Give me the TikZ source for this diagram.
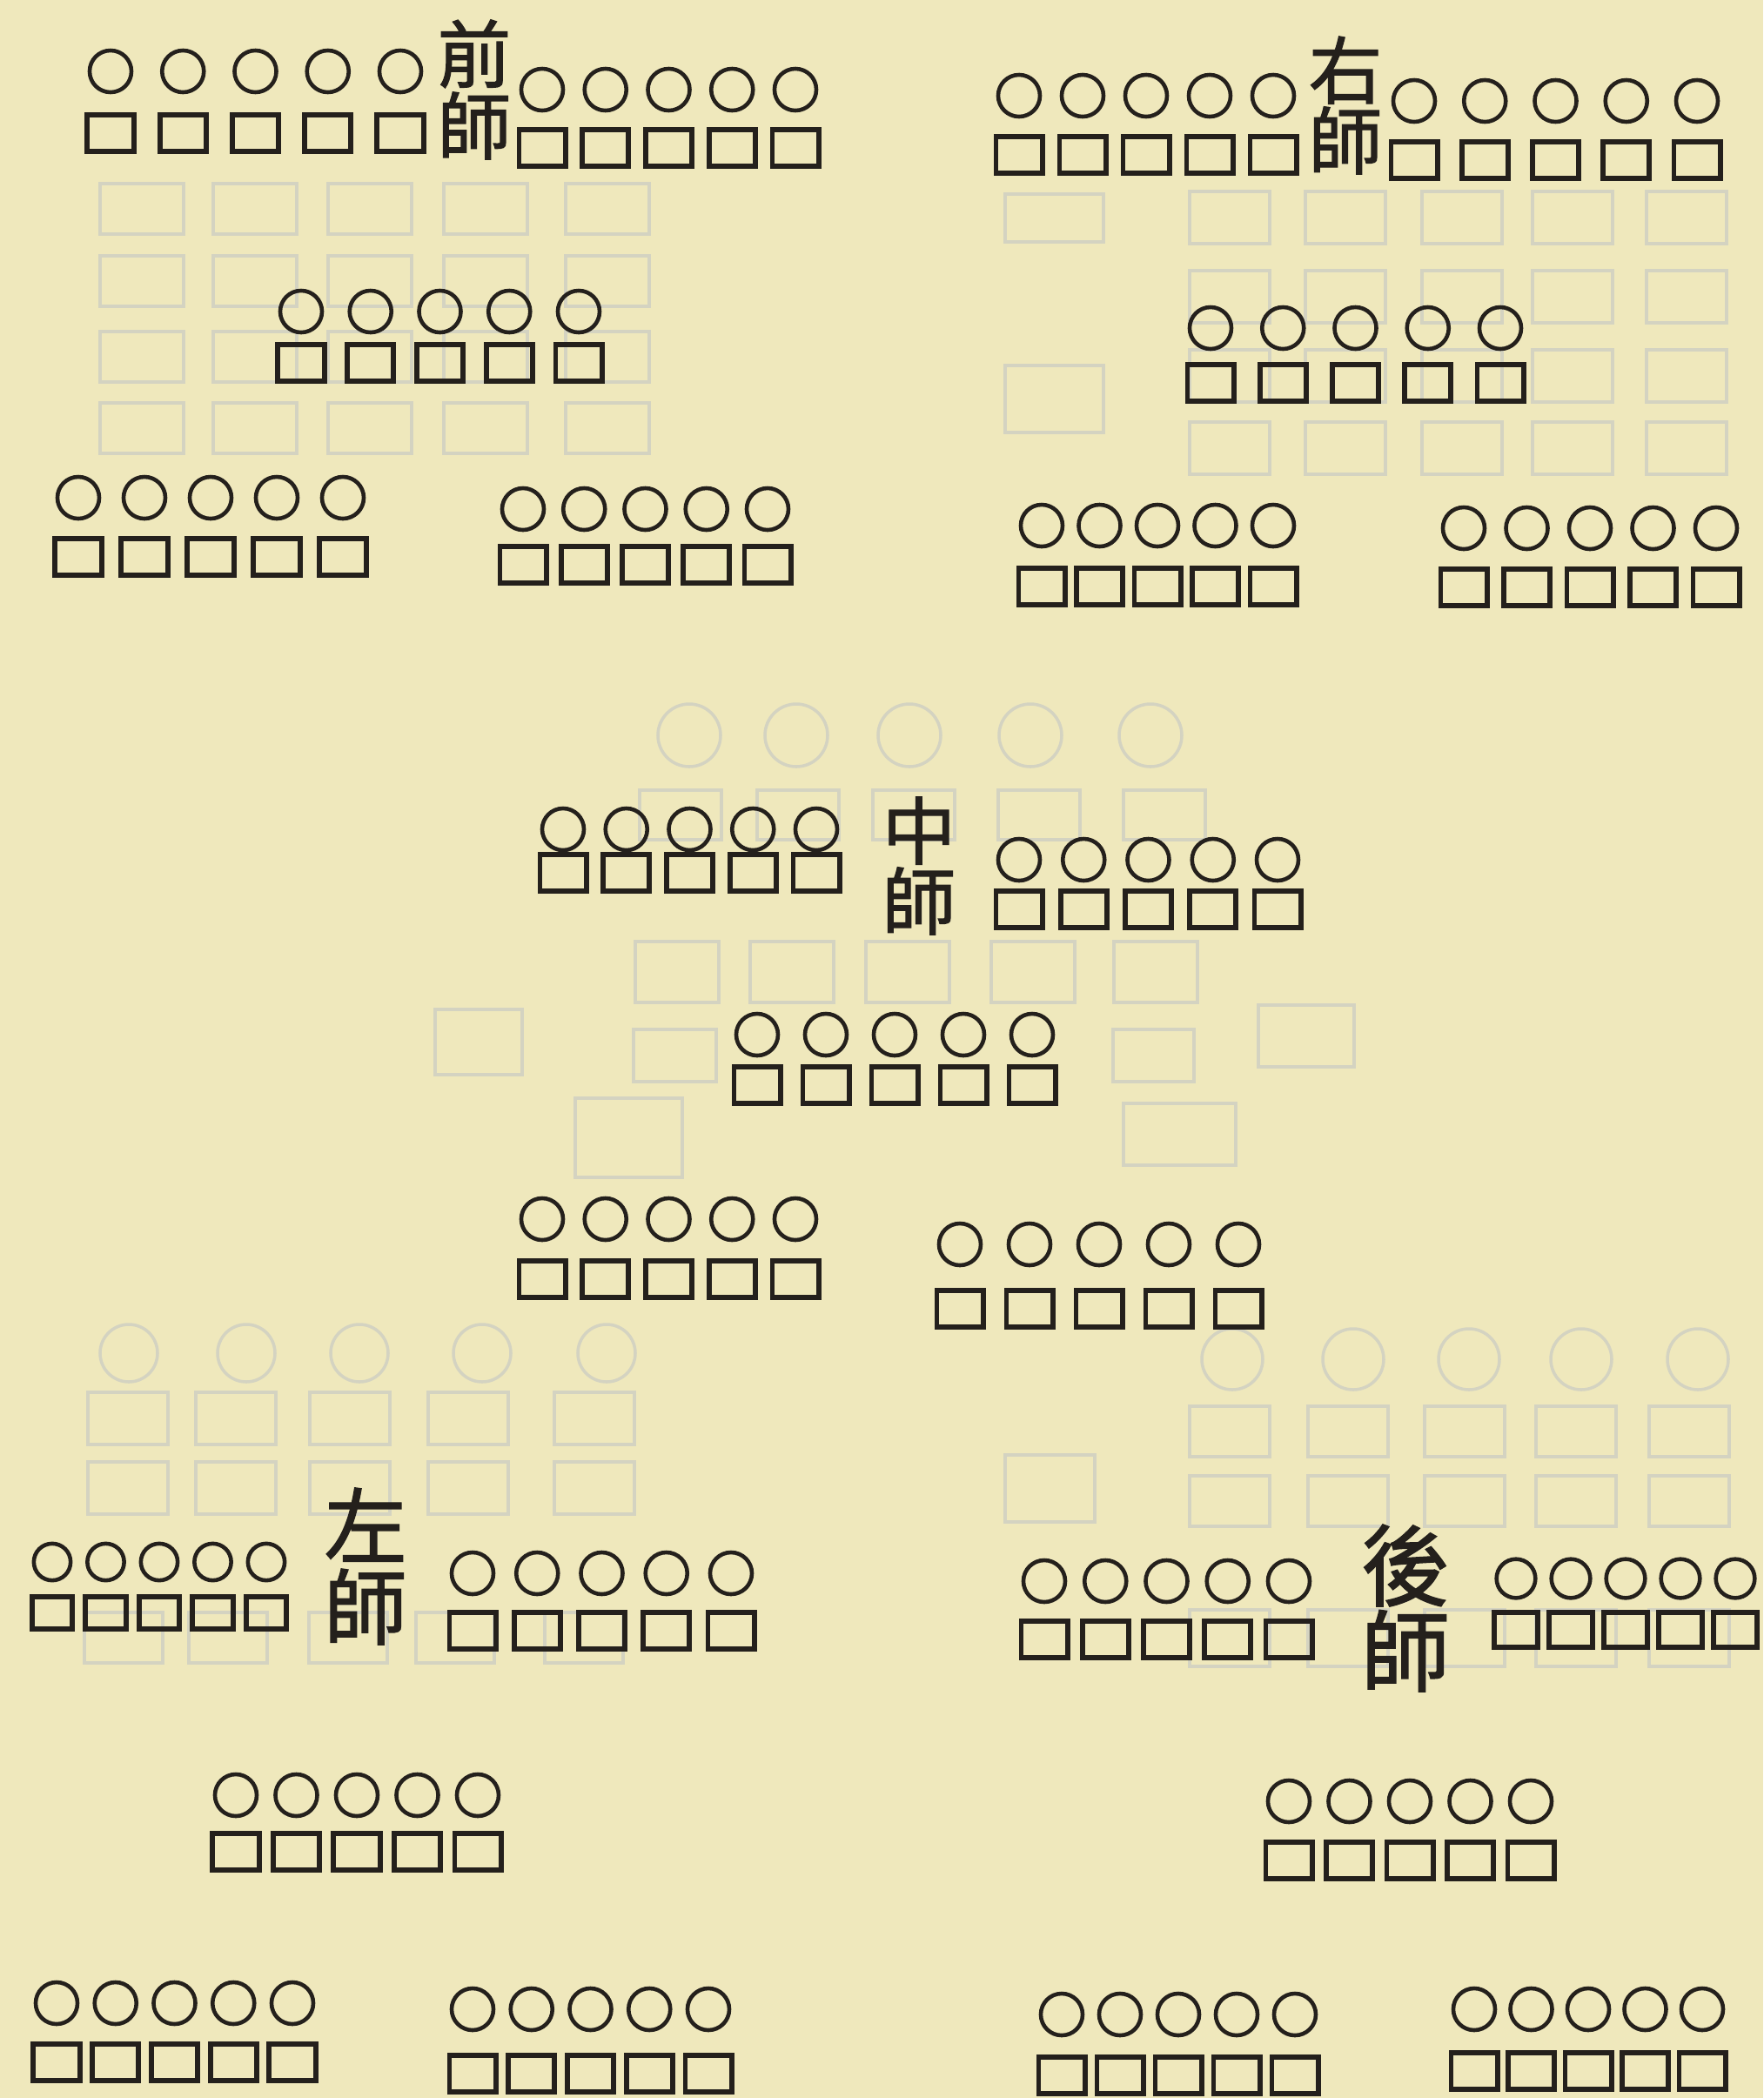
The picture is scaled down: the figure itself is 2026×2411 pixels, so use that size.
\documentclass[tikz,border=0pt]{standalone}
\usepackage{fontspec}
\newfontfamily\cjk[FakeBold=1.5]{Noto Sans CJK TC}
\definecolor{paper}{RGB}{239,232,188}
\definecolor{ink}{RGB}{36,32,28}
\definecolor{ghost}{RGB}{212,211,193}

\begin{document}
\begin{tikzpicture}[x=0.01cm, y=-0.01cm,
  officer/.style={circle, draw=ink, line width=1.3pt, inner sep=0pt},
  troop/.style={rectangle, draw=ink, line width=1.7pt, inner sep=0pt},
  banner/.style={text=ink, align=center, inner sep=0pt},
  shade/.style={draw=ghost, line width=1pt}]
  % paper
  \fill[paper] (0,0) rectangle (2026,2411);
  \useasboundingbox (0,0) rectangle (2026,2411);
  % faint print showing through from the back of the leaf
  \foreach \x in {163,293,425,558,698} \foreach \y in {240,323,410,492}
    \draw[shade] (\x-48,\y-29) rectangle (\x+48,\y+29);
  \foreach \x in {1413,1546,1680,1807,1938} \foreach \y in {250,341,432,515}
    \draw[shade] (\x-46,\y-30) rectangle (\x+46,\y+30);
  \draw[shade] (1155,223) rectangle (1268,278);
  \draw[shade] (1155,420) rectangle (1268,497);
  \foreach \x in {792,915,1045,1184,1322}
    \draw[shade] (\x,845) circle[radius=36];
  \foreach \x in {782,917,1050,1194,1338}
    \draw[shade] (\x-47,908) rectangle (\x+47,965);
  \foreach \x in {778,910,1043,1187,1328}
    \draw[shade] (\x-48,1082) rectangle (\x+48,1152);
  \draw[shade] (728,1183) rectangle (823,1243);
  \draw[shade] (1279,1183) rectangle (1372,1243);
  \draw[shade] (500,1160) rectangle (600,1235);
  \draw[shade] (1446,1155) rectangle (1556,1226);
  \draw[shade] (661,1262) rectangle (784,1353);
  \foreach \x in {148,283,413,554,697}
    \draw[shade] (\x,1555) circle[radius=33];
  \foreach \x in {147,271,402,538,683} \foreach \y in {1630,1710}
    \draw[shade] (\x-46,\y-30) rectangle (\x+46,\y+30);
  \foreach \x in {142,262,400,523,671}
    \draw[shade] (\x-45,1853) rectangle (\x+45,1911);
  \foreach \x in {1416,1555,1688,1817,1951}
    \draw[shade] (\x,1562) circle[radius=35];
  \foreach \x in {1413,1549,1683,1811,1941} \foreach \y in {1645,1725}
    \draw[shade] (\x-46,\y-29) rectangle (\x+46,\y+29);
  \foreach \x in {1413,1549,1683,1811,1941}
    \draw[shade] (\x-46,1850) rectangle (\x+46,1915);
  \draw[shade] (1155,1672) rectangle (1258,1749);
  \draw[shade] (1291,1268) rectangle (1420,1339);
  % five ranks of five, one circle over one square
  \foreach \g/\xa/\xb/\cy/\sy/\k in {
      qa/127/460/82/153/1, qb/623/914/103/170/1, qc/346/665/358/417/1,
      qd/90/394/572/640/1, qe/601/882/585/649/1,
      ra/1171/1463/110/178/1, rb/1625/1950/116/184/1, rc/1391/1724/377/440/1,
      rd/1197/1463/604/674/1, re/1682/1972/607/675/1,
      za/647/938/953/1003/1, zb/1171/1468/988/1045/1, zc/870/1186/1189/1247/1,
      zd/623/914/1401/1470/1, ze/1103/1423/1430/1504/1,
      la/60/306/1795/1853/0.88, lb/543/840/1808/1874/1, lc/271/549/2063/2128/1,
      ld/65/336/2302/2370/1, le/543/814/2309/2383/1,
      ha/1200/1481/1817/1884/1, hb/1742/1994/1814/1873/0.93, hc/1481/1759/2070/2138/1,
      hd/1220/1488/2315/2385/1, he/1694/1956/2309/2380/1} {
    \foreach \i in {1,...,5} {
      \pgfmathsetmacro{\xx}{\xa+(\i-1)*(\xb-\xa)/4}
      \node[officer, minimum size=\k*4.8mm] (\g c\i) at (\xx,\cy) {};
      \node[troop, minimum width=\k*5.3mm, minimum height=\k*4.2mm] (\g s\i) at (\xx,\sy) {};
    }
  }
  % division names
  \node[banner, font=\cjk\fontsize{24}{23.5}\selectfont] (front) at (545,103) {前\\師};
  \node[banner, font=\cjk\fontsize{24}{23}\selectfont] (right) at (1546,121) {右\\師};
  \node[banner, font=\cjk\fontsize{24}{23}\selectfont] (centre) at (1056,995) {中\\師};
  \node[banner, font=\cjk\fontsize{27}{26.5}\selectfont] (left) at (420,1800) {左\\師};
  \node[banner, font=\cjk\fontsize{29}{28}\selectfont] (rear) at (1615,1848) {後\\師};
\end{tikzpicture}
\end{document}
